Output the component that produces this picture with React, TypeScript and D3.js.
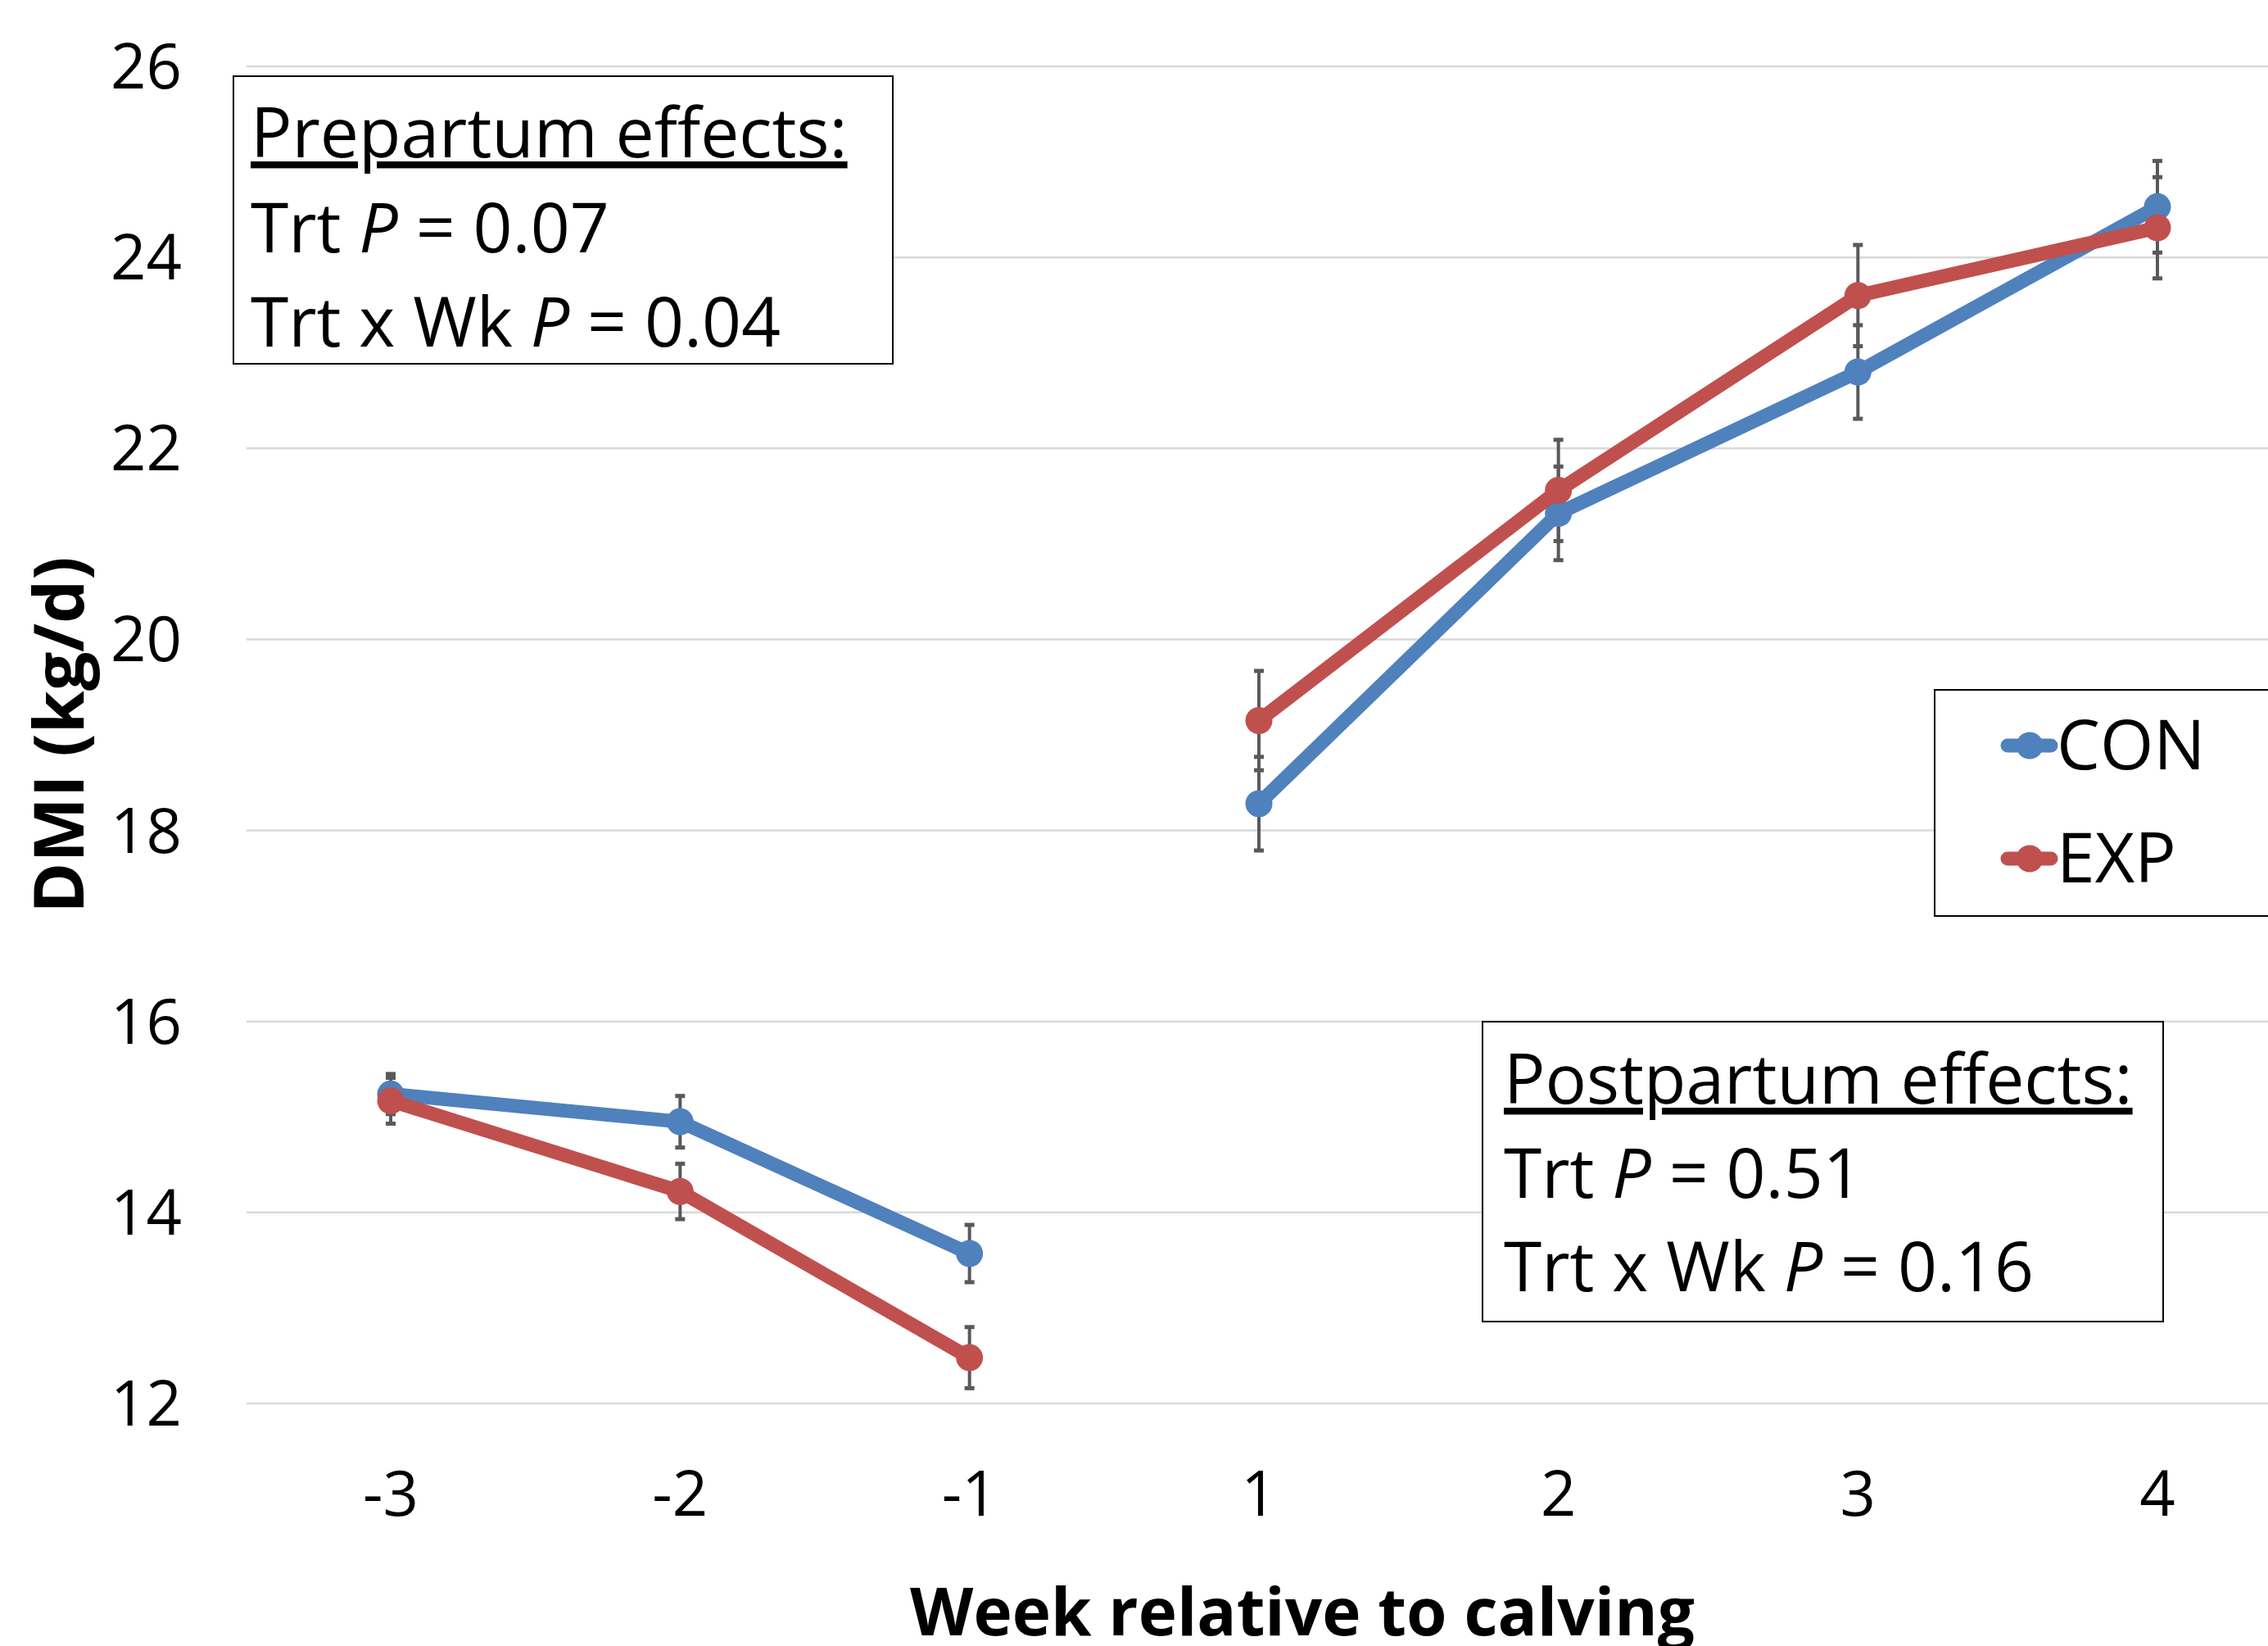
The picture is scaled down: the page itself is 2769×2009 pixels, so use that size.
import React, { useRef, useEffect } from 'react';
import * as d3 from 'd3';

// weeks relative to calving (no week 0)
const weeks = ['-3', '-2', '-1', '1', '2', '3', '4'];
const periods = ['pre', 'pre', 'pre', 'post', 'post', 'post', 'post'];

const conMeans = [15.24, 14.95, 13.57, 18.28, 21.32, 22.8, 24.53];
const conSE = [0.21, 0.27, 0.3, 0.49, 0.49, 0.49, 0.48];
const expMeans = [15.17, 14.22, 12.48, 19.15, 21.56, 23.6, 24.31];
const expSE = [0.24, 0.29, 0.32, 0.52, 0.53, 0.53, 0.53];

const yTicks = [12, 14, 16, 18, 20, 22, 24, 26];

const prepartumLines = ['Trt |P| = 0.07', 'Trt x Wk |P| = 0.04'];
const postpartumLines = ['Trt |P| = 0.51', 'Trt x Wk |P| = 0.16'];

const W = 2769;
const H = 2009;
const FONT = '"Open Sans", "Noto Sans", sans-serif';

const App = () => {
    const svgRef = useRef<SVGSVGElement | null>(null);

    useEffect(() => {
        const svg = d3.select(svgRef.current);
        svg.selectAll('*').remove();

        // category positions (index based; spacing in the source is slightly wider after calving)
        const x = d3.scaleLinear().domain([0, 3, 6]).range([477, 1537, 2634]);
        const y = d3.scaleLinear().domain([12, 26]).range([1713, 81]);

        const series = [
            { name: 'CON', color: '#4F81BD', means: conMeans, se: conSE },
            { name: 'EXP', color: '#C0504D', means: expMeans, se: expSE },
        ];

        // gridlines
        svg.append('g')
            .selectAll('line')
            .data(yTicks)
            .join('line')
            .attr('x1', 301)
            .attr('x2', W)
            .attr('y1', d => y(d))
            .attr('y2', d => y(d))
            .attr('stroke', '#d9d9d9')
            .attr('stroke-width', 2.5);

        // y tick labels
        svg.append('g')
            .selectAll('text')
            .data(yTicks)
            .join('text')
            .attr('x', 222)
            .attr('y', d => y(d) + 27)
            .attr('text-anchor', 'end')
            .attr('font-size', 76)
            .attr('font-family', FONT)
            .attr('fill', '#000')
            .text(d => d);

        // x tick labels
        svg.append('g')
            .selectAll('text')
            .data(weeks)
            .join('text')
            .attr('x', (d, i) => x(i))
            .attr('y', 1850)
            .attr('text-anchor', 'middle')
            .attr('font-size', 76)
            .attr('font-family', FONT)
            .text(d => d);

        // axis titles
        svg.append('text')
            .attr('x', 1590)
            .attr('y', 1996)
            .attr('text-anchor', 'middle')
            .attr('font-size', 80)
            .attr('font-weight', 'bold')
            .attr('font-family', FONT)
            .text('Week relative to calving');

        svg.append('text')
            .attr('transform', 'translate(102,897) rotate(-90)')
            .attr('text-anchor', 'middle')
            .attr('font-size', 84)
            .attr('font-weight', 'bold')
            .attr('font-family', FONT)
            .text('DMI (kg/d)');

        // error bars
        series.forEach(s => {
            const g = svg.append('g').attr('stroke', '#595959').attr('stroke-width', 4);
            s.means.forEach((m, i) => {
                const cx = x(i);
                const top = y(m + s.se[i]);
                const bot = y(m - s.se[i]);
                g.append('line').attr('x1', cx).attr('x2', cx).attr('y1', top).attr('y2', bot);
                g.append('line').attr('x1', cx - 6).attr('x2', cx + 6).attr('y1', top).attr('y2', top).attr('stroke-width', 5);
                g.append('line').attr('x1', cx - 6).attr('x2', cx + 6).attr('y1', bot).attr('y2', bot).attr('stroke-width', 5);
            });
        });

        // lines + markers, split pre/post calving
        const line = d3.line<{ i: number; v: number }>()
            .x(d => x(d.i))
            .y(d => y(d.v));

        series.forEach(s => {
            const pts = s.means.map((v, i) => ({ i, v, p: periods[i] }));
            const groups = d3.groups(pts, d => d.p);
            const g = svg.append('g');
            groups.forEach(([, arr]) => {
                g.append('path')
                    .attr('d', line(arr))
                    .attr('fill', 'none')
                    .attr('stroke', s.color)
                    .attr('stroke-width', 17)
                    .attr('stroke-linejoin', 'round');
            });
            g.selectAll('circle')
                .data(pts)
                .join('circle')
                .attr('cx', d => x(d.i))
                .attr('cy', d => y(d.v))
                .attr('r', 16.5)
                .attr('fill', s.color);
        });

        // annotation boxes
        const drawBox = (bx, by, bw, bh, title, lines, tx, baselines) => {
            const g = svg.append('g').attr('font-family', FONT).attr('font-size', 84);
            g.append('rect')
                .attr('x', bx).attr('y', by).attr('width', bw).attr('height', bh)
                .attr('fill', '#fff').attr('stroke', '#000').attr('stroke-width', 2);
            g.append('text')
                .attr('x', tx).attr('y', baselines[0])
                .style('text-decoration', 'underline')
                .text(title);
            lines.forEach((ln, k) => {
                const t = g.append('text').attr('x', tx).attr('y', baselines[k + 1]);
                ln.split('|').forEach((part, j) => {
                    t.append('tspan')
                        .attr('font-style', j === 1 ? 'italic' : 'normal')
                        .text(part);
                });
            });
        };

        drawBox(285, 93, 805, 351, 'Prepartum effects:', prepartumLines, 306, [192, 308, 423]);
        drawBox(1810, 1247, 831, 366, 'Postpartum effects:', postpartumLines, 1836, [1347, 1462, 1576]);

        // legend
        const lg = svg.append('g').attr('font-family', FONT).attr('font-size', 84);
        lg.append('rect')
            .attr('x', 2362).attr('y', 842).attr('width', 500).attr('height', 276)
            .attr('fill', '#fff').attr('stroke', '#000').attr('stroke-width', 2);
        series.forEach((s, k) => {
            const cy = 910 + k * 138;
            lg.append('line')
                .attr('x1', 2451).attr('x2', 2504)
                .attr('y1', cy).attr('y2', cy)
                .attr('stroke', s.color).attr('stroke-width', 17).attr('stroke-linecap', 'round');
            lg.append('circle').attr('cx', 2478).attr('cy', cy).attr('r', 16.5).attr('fill', s.color);
            lg.append('text').attr('x', 2511).attr('y', cy + 29).text(s.name);
        });
    }, []);

    return (
        <svg
            ref={svgRef}
            width={W}
            height={H}
            style={{ position: 'absolute', left: 0, top: 0, background: '#fff' }}
        />
    );
};

export default App;
